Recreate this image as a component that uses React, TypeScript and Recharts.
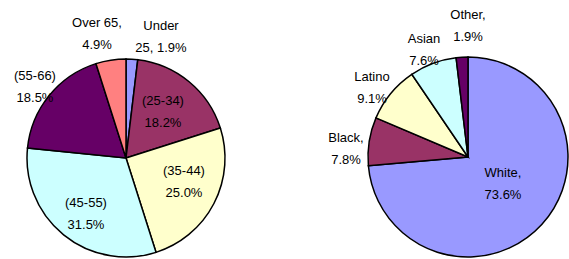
import { PieChart, Pie, Cell } from 'recharts';

// Age breakdown (left pie), clockwise from 12 o'clock
const AGE_NAMES = ['Under 25', '(25-34)', '(35-44)', '(45-55)', '(55-66)', 'Over 65'];
const AGE_VALUES = [1.9, 18.2, 25.0, 31.5, 18.5, 4.9];
const AGE_LABELS = [
  ['Under', '25, 1.9%'],
  ['(25-34)', '18.2%'],
  ['(35-44)', '25.0%'],
  ['(45-55)', '31.5%'],
  ['(55-66)', '18.5%'],
  ['Over 65,', '4.9%'],
];
const AGE_COLORS = ['#9999FF', '#993366', '#FFFFCC', '#CCFFFF', '#660066', '#FF8080'];

// Ethnicity breakdown (right pie), clockwise from 12 o'clock
const ETH_NAMES = ['White', 'Black', 'Latino', 'Asian', 'Other'];
const ETH_VALUES = [73.6, 7.8, 9.1, 7.6, 1.9];
const ETH_LABELS = [
  ['White,', '73.6%'],
  ['Black,', '7.8%'],
  ['Latino', '9.1%'],
  ['Asian', '7.6%'],
  ['Other,', '1.9%'],
];
const ETH_COLORS = ['#9999FF', '#993366', '#FFFFCC', '#CCFFFF', '#660066'];

// label centres relative to each pie centre (Excel-style placement)
const AGE_LABEL_POS = [
  [35, -122],
  [37, -47],
  [58, 23],
  [-40, 55],
  [-91, -72],
  [-29, -125],
];
const ETH_LABEL_POS = [
  [35, 26],
  [-122, -9],
  [-96, -70],
  [-44, -108],
  [0, -132],
];

const ageData = AGE_NAMES.map((name, i) => ({ name, value: AGE_VALUES[i] }));
const ethData = ETH_NAMES.map((name, i) => ({ name, value: ETH_VALUES[i] }));

function makeLabel(lines: string[][], pos: number[][]) {
  return (props: any) => {
    const { cx, cy, index } = props;
    const [dx, dy] = pos[index];
    const x = cx + dx;
    const y = cy + dy;
    return (
      <text
        key={index}
        x={x}
        y={y - 11}
        textAnchor="middle"
        dominantBaseline="central"
        fontFamily="'Liberation Sans', Arial, sans-serif"
        fontSize={13}
        fill="#000"
      >
        <tspan x={x} dy={0}>{lines[index][0]}</tspan>
        <tspan x={x} dy={22}>{lines[index][1]}</tspan>
      </text>
    );
  };
}

export default function App() {
  return (
    <div style={{ position: 'absolute', left: 0, top: 0, background: '#fff' }}>
      <PieChart width={569} height={259} margin={{ top: 0, right: 0, bottom: 0, left: 0 }}>
        <Pie
          data={ageData}
          dataKey="value"
          nameKey="name"
          cx={126}
          cy={158}
          outerRadius={99}
          startAngle={90}
          endAngle={-270}
          stroke="#000"
          strokeWidth={1.5}
          label={makeLabel(AGE_LABELS, AGE_LABEL_POS)}
          labelLine={false}
          isAnimationActive={false}
        >
          {ageData.map((_, i) => (
            <Cell key={i} fill={AGE_COLORS[i]} />
          ))}
        </Pie>
        <Pie
          data={ethData}
          dataKey="value"
          nameKey="name"
          cx={468}
          cy={157}
          outerRadius={100}
          startAngle={90}
          endAngle={-270}
          stroke="#000"
          strokeWidth={1.5}
          label={makeLabel(ETH_LABELS, ETH_LABEL_POS)}
          labelLine={false}
          isAnimationActive={false}
        >
          {ethData.map((_, i) => (
            <Cell key={i} fill={ETH_COLORS[i]} />
          ))}
        </Pie>
      </PieChart>
    </div>
  );
}
